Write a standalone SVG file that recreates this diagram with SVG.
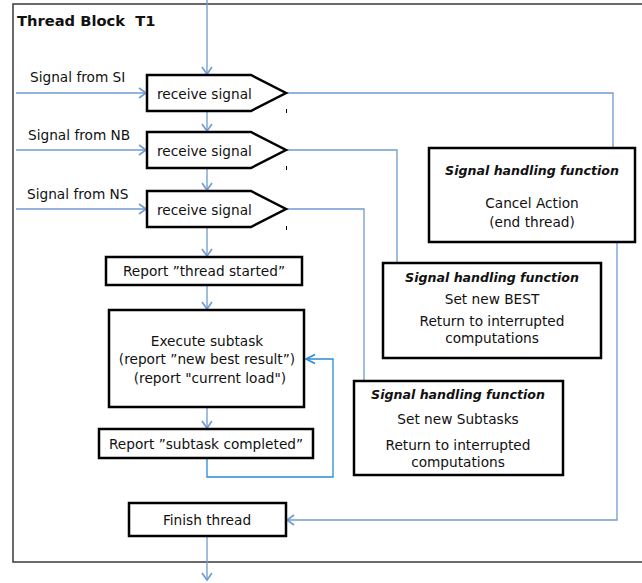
<svg xmlns="http://www.w3.org/2000/svg" width="642" height="583" viewBox="0 0 642 583">
<style>
text{font-family:"DejaVu Sans","Liberation Sans",sans-serif;font-size:13.7px;fill:#111}
.c{text-anchor:middle}
.h{font-weight:bold;font-style:italic;font-size:12.6px}
.box{fill:#fff;stroke:#000;stroke-width:2.5}
.ln{fill:none;stroke:#6f9bd2;stroke-width:1.3}
.lp{fill:none;stroke:#2a8ad6;stroke-width:1.3}
.tk{stroke:#000;stroke-width:1}
</style>
<defs>
<marker id="a" markerUnits="userSpaceOnUse" markerWidth="12" markerHeight="12" refX="9" refY="6" orient="auto">
<path d="M2,1 L9,6 L2,11" fill="none" stroke="#6f9bd2" stroke-width="1.6"/>
</marker>
<marker id="b" markerUnits="userSpaceOnUse" markerWidth="14" markerHeight="12" refX="10" refY="6" orient="auto">
<path d="M1,1.5 L10,6 L1,10.5" fill="none" stroke="#2a8ad6" stroke-width="1.6"/>
</marker>
</defs>
<rect width="642" height="583" fill="#fff"/>
<g id="frame">
<rect x="13" y="4" width="640" height="558" fill="none" stroke="#454545" stroke-width="1.6"/>
<text x="17" y="26" xml:space="preserve" style="font-weight:bold;font-size:14.7px">Thread Block  T1</text>
</g>
<g id="connectors">
<path class="ln" d="M207,0 V74" marker-end="url(#a)"/>
<path class="ln" d="M16,93 H146" marker-end="url(#a)"/>
<path class="ln" d="M16,150 H146" marker-end="url(#a)"/>
<path class="ln" d="M16,209 H146" marker-end="url(#a)"/>
<path class="ln" d="M207,111 V131" marker-end="url(#a)"/>
<path class="ln" d="M207,168 V190" marker-end="url(#a)"/>
<path class="ln" d="M207,227 V256" marker-end="url(#a)"/>
<path class="ln" d="M207,285 V309" marker-end="url(#a)"/>
<path class="ln" d="M207,407 V428" marker-end="url(#a)"/>
<path class="ln" d="M286,93 H613 V148"/>
<path class="ln" d="M286,150 H397 V263"/>
<path class="ln" d="M286,209 H364 V381"/>
<path class="ln" d="M617,242 V520 H287" marker-end="url(#a)"/>
<path class="lp" d="M207,458 V477 H333 V359 H306" marker-end="url(#b)"/>
<path class="ln" d="M207,537 V580" marker-end="url(#a)"/>
<line class="tk" x1="286.5" y1="109" x2="286.5" y2="113"/>
<line class="tk" x1="286.5" y1="166" x2="286.5" y2="170"/>
<line class="tk" x1="286.5" y1="226" x2="286.5" y2="230"/>
</g>
<g id="labels">
<text x="30" y="82">Signal from SI</text>
<text x="28" y="140">Signal from NB</text>
<text x="27" y="199">Signal from NS</text>
</g>
<g id="recv1"><path class="box" d="M147,75 H251 L286,93 L251,111 H147 Z"/><text x="157" y="99">receive signal</text></g>
<g id="recv2"><path class="box" d="M147,132 H251 L286,150 L251,168 H147 Z"/><text x="157" y="156">receive signal</text></g>
<g id="recv3"><path class="box" d="M147,191 H251 L286,209 L251,227 H147 Z"/><text x="157" y="215">receive signal</text></g>
<g id="started"><rect class="box" x="106" y="257" width="196" height="28"/><text class="c" x="204" y="276">Report ”thread started”</text></g>
<g id="execute"><rect class="box" x="109" y="310" width="195" height="97"/>
<text class="c" x="207" y="346">Execute subtask</text>
<text class="c" x="207" y="364">(report ”new best result”)</text>
<text class="c" x="210" y="383">(report "current load")</text></g>
<g id="completed"><rect class="box" x="99" y="429" width="214" height="29"/><text class="c" x="206" y="449">Report ”subtask completed”</text></g>
<g id="finish"><rect class="box" x="129" y="503" width="157" height="33"/><text class="c" x="207" y="525">Finish thread</text></g>
<g id="cancel"><rect class="box" x="429" y="148" width="206" height="94"/>
<text class="c h" x="532" y="175">Signal handling function</text>
<text class="c" x="532" y="208">Cancel Action</text>
<text class="c" x="532" y="227">(end thread)</text></g>
<g id="best"><rect class="box" x="383" y="263" width="218" height="95"/>
<text class="c h" x="492" y="282">Signal handling function</text>
<text class="c" x="492" y="304">Set new BEST</text>
<text class="c" x="492" y="326">Return to interrupted</text>
<text class="c" x="492" y="343">computations</text></g>
<g id="subtasks"><rect class="box" x="354" y="381" width="209" height="94"/>
<text class="c h" x="458" y="399">Signal handling function</text>
<text class="c" x="458" y="424">Set new Subtasks</text>
<text class="c" x="458" y="450">Return to interrupted</text>
<text class="c" x="458" y="467">computations</text></g>
</svg>
